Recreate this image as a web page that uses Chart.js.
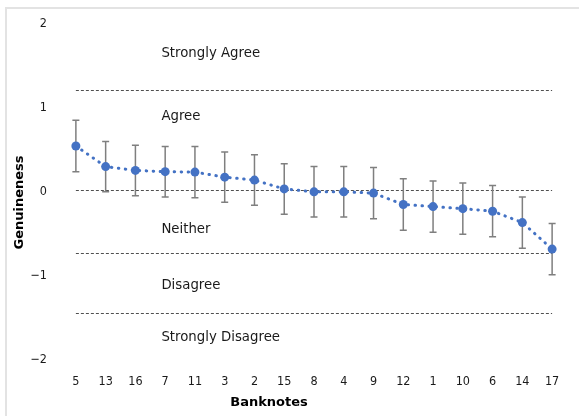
<!DOCTYPE html>
<html>
<head>
<meta charset="utf-8">
<script src="https://cdn.jsdelivr.net/npm/chart.js@4"></script>
<style>
  html, body { margin: 0; padding: 0; background: #ffffff; }
  #wrap { width: 579px; height: 416px; position: relative; }
</style>
</head>
<body>
<div id="wrap"><canvas id="chart" width="579" height="416"></canvas></div>
<script>
// Banknote identifiers, ordered by mean genuineness rating
const banknotes = ['5', '13', '16', '7', '11', '3', '2', '15', '8', '4', '9', '12', '1', '10', '6', '14', '17'];
// Mean genuineness per banknote
const genuineness = [0.52, 0.275, 0.23, 0.215, 0.21, 0.15, 0.115, 0.01, -0.025, -0.025, -0.04, -0.175, -0.2, -0.225, -0.255, -0.39, -0.705];
// Half-width of the error bar per banknote
const errorHalf = [0.305, 0.30, 0.30, 0.30, 0.305, 0.30, 0.30, 0.30, 0.30, 0.30, 0.305, 0.305, 0.305, 0.305, 0.305, 0.305, 0.305];
// Boundaries between the response bands
const bandBounds = [1.19, 0, -0.75, -1.47];
// Band names and the value at which each name sits
const bandNames = ['Strongly Agree', 'Agree', 'Neither', 'Disagree', 'Strongly Disagree'];
const bandNamePos = [1.62, 0.87, -0.47, -1.14, -1.76];
// Y tick labels
const yTicks = [-2, -1, 0, 1, 2];

const TICK_FONT = "'DejaVu Sans Condensed', 'DejaVu Sans', sans-serif";
const TEXT_FONT = "'DejaVu Sans', sans-serif";
const BLUE = '#4472C4';

const decorPlugin = {
  id: 'decor',
  beforeDraw(chart) {
    const ctx = chart.ctx;
    ctx.save();
    ctx.strokeStyle = '#e3e3e3';
    ctx.lineWidth = 2;
    ctx.strokeRect(6, 8, 700, 500);
    ctx.restore();
  },
  beforeDatasetsDraw(chart) {
    const ctx = chart.ctx;
    const x = chart.scales.x, y = chart.scales.y;
    const x0 = x.getPixelForValue(0), x1 = x.getPixelForValue(banknotes.length - 1);
    ctx.save();
    // band boundaries
    ctx.strokeStyle = '#505050';
    ctx.lineWidth = 1;
    ctx.setLineDash([3, 2]);
    bandBounds.forEach(v => {
      const py = Math.round(y.getPixelForValue(v)) + 0.5;
      ctx.beginPath();
      ctx.moveTo(x0, py);
      ctx.lineTo(x1, py);
      ctx.stroke();
    });
    ctx.setLineDash([]);
    // band names
    ctx.fillStyle = '#1a1a1a';
    ctx.font = '13.3px ' + TEXT_FONT;
    ctx.textAlign = 'left';
    ctx.textBaseline = 'middle';
    const tx = x.getPixelForValue(0) + 85.5;
    bandNames.forEach((n, i) => ctx.fillText(n, tx, y.getPixelForValue(bandNamePos[i])));
    // error bars
    ctx.strokeStyle = '#7f7f7f';
    ctx.lineWidth = 1.5;
    genuineness.forEach((m, i) => {
      const px = x.getPixelForValue(i);
      const top = y.getPixelForValue(m + errorHalf[i]);
      const bot = y.getPixelForValue(m - errorHalf[i]);
      ctx.beginPath();
      ctx.moveTo(px, top); ctx.lineTo(px, bot);
      ctx.moveTo(px - 3.5, top); ctx.lineTo(px + 3.5, top);
      ctx.moveTo(px - 3.5, bot); ctx.lineTo(px + 3.5, bot);
      ctx.stroke();
    });
    ctx.restore();
  },
  afterDraw(chart) {
    const ctx = chart.ctx;
    const a = chart.chartArea;
    ctx.save();
    ctx.fillStyle = '#000';
    ctx.font = 'bold 13px ' + TEXT_FONT;
    ctx.textAlign = 'center';
    ctx.textBaseline = 'middle';
    ctx.fillText('Banknotes', a.left + 208, 403);
    ctx.translate(20, a.top + 181);
    ctx.rotate(-Math.PI / 2);
    ctx.fillText('Genuineness', 0, 0);
    ctx.restore();
  }
};

new Chart(document.getElementById('chart'), {
  type: 'line',
  data: {
    labels: banknotes,
    datasets: [{
      data: genuineness,
      borderColor: BLUE,
      backgroundColor: BLUE,
      borderWidth: 3,
      borderDash: [0.5, 6.5],
      borderCapStyle: 'round',
      pointRadius: 4.5,
      pointBorderWidth: 0,
      pointBackgroundColor: BLUE,
      tension: 0,
      fill: false
    }]
  },
  options: {
    responsive: false,
    animation: false,
    events: [],
    layout: { padding: { top: 18, right: 12, bottom: 0, left: 0 } },
    plugins: { legend: { display: false }, tooltip: { enabled: false } },
    scales: {
      x: {
        type: 'category',
        offset: true,
        grid: { display: false, drawTicks: false },
        border: { display: false },
        ticks: { color: '#1a1a1a', font: { family: TICK_FONT, size: 12.5 }, padding: 16, maxRotation: 0, autoSkip: false },
        afterFit(s) { s.height = 58; }
      },
      y: {
        min: -2, max: 2,
        grid: { display: false, drawTicks: false },
        border: { display: false },
        afterBuildTicks(s) { s.ticks = yTicks.map(v => ({ value: v })); },
        ticks: {
          color: '#1a1a1a', font: { family: TICK_FONT, size: 12.5 }, padding: 14, labelOffset: 2,
          callback: v => (v < 0 ? '\u2212' + Math.abs(v) : String(v))
        },
        afterFit(s) { s.width = 61; }
      }
    }
  },
  plugins: [decorPlugin]
});
</script>
</body>
</html>
